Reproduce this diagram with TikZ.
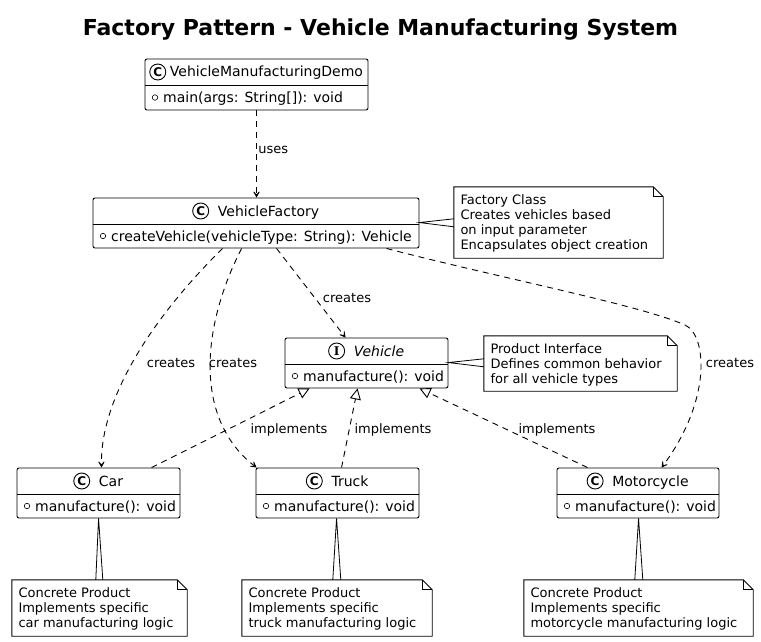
\documentclass[tikz,border=0pt]{standalone}
\usepackage{fontspec}
\setmainfont{DejaVu Sans}
\newfontfamily\iconserif{DejaVu Serif}
\usetikzlibrary{arrows.meta,fit,positioning}

\tikzset{
  clsbox/.style={draw, line width=0.9pt, rounded corners=2pt, fill=white, inner sep=0pt},
  clsname/.style={font=\fontsize{14}{16}\selectfont, inner sep=0pt},
  membertext/.style={font=\fontsize{14}{16}\selectfont, inner sep=0pt},
  umlicon/.style={draw, circle, line width=0.9pt, minimum size=16pt, inner sep=0pt, fill=white, font=\fontsize{12}{12}\selectfont\bfseries},
  vis/.style={draw, circle, line width=0.6pt, minimum size=5.5pt, inner sep=0pt},
  notebox/.style={inner sep=0pt},
  notetext/.style={font=\fontsize{13}{15}\selectfont, align=left, anchor=north west, inner sep=0pt},
  dep/.style={line width=0.9pt, dash pattern=on 6pt off 5pt, -{Stealth[length=9pt,width=10pt,inset=6pt]}},
  realize/.style={line width=0.9pt, dash pattern=on 6pt off 5pt, -{Triangle[open,length=11pt,width=11pt,fill=white]}},
  lbl/.style={font=\fontsize{13}{15}\selectfont, inner sep=0pt},
  notelink/.style={line width=0.8pt},
}

% #1 id, #2 left, #3 top, #4 right, #5 bottom, #6 icon, #7 name, #8 member, #9 gap icon-name
\newcommand\umlclass[9]{%
  \coordinate (#1-tl) at (#2,#3);
  \coordinate (#1-br) at (#4,#5);
  \node[clsbox, fit=(#1-tl)(#1-br)] (#1) {};
  \draw[line width=0.9pt] (#2,#3+26) -- (#4,#3+26);
  \node[clsname, anchor=base] (#1-name) at ({(#2+#4)/2+(16+#9)/2},#3+18) {#7};
  \path (#1-name.base west) ++({-(8+#9)*1pt},5pt) node[umlicon] (#1-icon) {#6};
  \node[vis] (#1-vis) at (#2+10,{(#3+26+#5)/2}) {};
  \node[membertext, anchor=base west] (#1-mem) at (#2+18,{(#3+26+#5)/2+5}) {#8};
}

% #1 id, #2 left, #3 top, #4 right, #5 bottom, #6 text
\newcommand\umlnote[6]{%
  \coordinate (#1-tl) at (#2,#3);
  \coordinate (#1-br) at (#4,#5);
  \node[notebox, fit=(#1-tl)(#1-br)] (#1) {};
  \draw[line width=0.9pt, fill=white] (#1.north west) -- ([xshift=-10pt]#1.north east)
     -- ([yshift=-10pt]#1.north east) -- (#1.south east) -- (#1.south west) -- cycle;
  \draw[line width=0.9pt] ([xshift=-10pt]#1.north east) -- ([xshift=-10pt,yshift=-10pt]#1.north east)
     -- ([yshift=-10pt]#1.north east);
  \node[notetext] (#1-txt) at ([xshift=6.5pt,yshift=-8pt]#1.north west) {#6};
}

\begin{document}
\begin{tikzpicture}[x=1pt,y=-1pt]
\fill[white] (0,0) rectangle (761,642);
\useasboundingbox (0,0) rectangle (761,642);

\node[font=\fontsize{22}{26}\selectfont\bfseries] (title) at (380.5,30) {Factory Pattern - Vehicle Manufacturing System};

% classes
\umlclass{demo}{145}{59}{368}{110}{C}{VehicleManufacturingDemo}{main(args: String[]): void}{4}
\umlclass{fac}{93}{198}{419}{248}{C}{VehicleFactory}{createVehicle(vehicleType: String): Vehicle}{9}
\umlclass{veh}{285}{338}{448}{388}{{\iconserif\bfseries I}}{\itshape Vehicle}{manufacture(): void}{9}
\umlclass{car}{17}{468}{180}{518}{C}{Car}{manufacture(): void}{9}
\umlclass{truck}{256}{468}{419}{518}{C}{Truck}{manufacture(): void}{9}
\umlclass{moto}{557}{468}{719}{518}{C}{Motorcycle}{manufacture(): void}{9}

% notes
\umlnote{nf}{454}{187}{663}{258}{Factory Class\\Creates vehicles based\\on input parameter\\Encapsulates object creation}
\umlnote{np}{484}{336}{677}{391}{Product Interface\\Defines common behavior\\for all vehicle types}
\umlnote{nc}{12}{580}{187}{636}{Concrete Product\\Implements specific\\car manufacturing logic}
\umlnote{nt}{242}{580}{432}{636}{Concrete Product\\Implements specific\\truck manufacturing logic}
\umlnote{nm}{524}{580}{753}{636}{Concrete Product\\Implements specific\\motorcycle manufacturing logic}

% note links (wedges)
\draw[notelink] ([yshift=-32pt]nf.north west) -- ([yshift=-25pt]fac.north east) -- ([yshift=-40pt]nf.north west);
\draw[notelink] ([yshift=-23pt]np.north west) -- ([yshift=-25pt]veh.north east) -- ([yshift=-31pt]np.north west);
\draw[notelink] ([xshift=84pt]nc.north west) -- ([xshift=82pt]car.south west) -- ([xshift=91pt]nc.north west);
\draw[notelink] ([xshift=91pt]nt.north west) -- ([xshift=81pt]truck.south west) -- ([xshift=99pt]nt.north west);
\draw[notelink] ([xshift=111pt]nm.north west) -- ([xshift=82pt]moto.south west) -- ([xshift=119pt]nm.north west);

% dependencies
\draw[dep] (demo.south) -- (demo.south |- fac.north)
  node[lbl, anchor=west] at (258,150) {uses};
\draw[dep] ([xshift=184pt]fac.south west) -- ([xshift=61pt]veh.north west)
  node[lbl] at (347,298) {creates};
\draw[dep] ([xshift=130pt]fac.south west) .. controls (150,320) and (100,400) .. ([xshift=85pt]car.north west)
  node[lbl] at (171,363) {creates};
\draw[dep] ([xshift=149pt]fac.south west) .. controls (200,330) and (195,420) .. ([xshift=1pt]truck.north west)
  node[lbl] at (233,363) {creates};
\draw[dep] ([xshift=294pt]fac.south west) .. controls (500,278) and (640,305) .. (685,325)
  .. controls (707,335) and (712,400) .. ([xshift=105pt]moto.north west)
  node[lbl] at (730,363) {creates};

% realizations
\draw[realize] ([xshift=135pt]car.north west) -- ([xshift=25pt]veh.south west)
  node[lbl] at (289,430) {implements};
\draw[realize] ([xshift=86pt]truck.north west) -- ([xshift=73pt]veh.south west)
  node[lbl] at (393,430) {implements};
\draw[realize] ([xshift=31pt]moto.north west) -- ([xshift=135pt]veh.south west)
  node[lbl] at (557,430) {implements};
\end{tikzpicture}
\end{document}
